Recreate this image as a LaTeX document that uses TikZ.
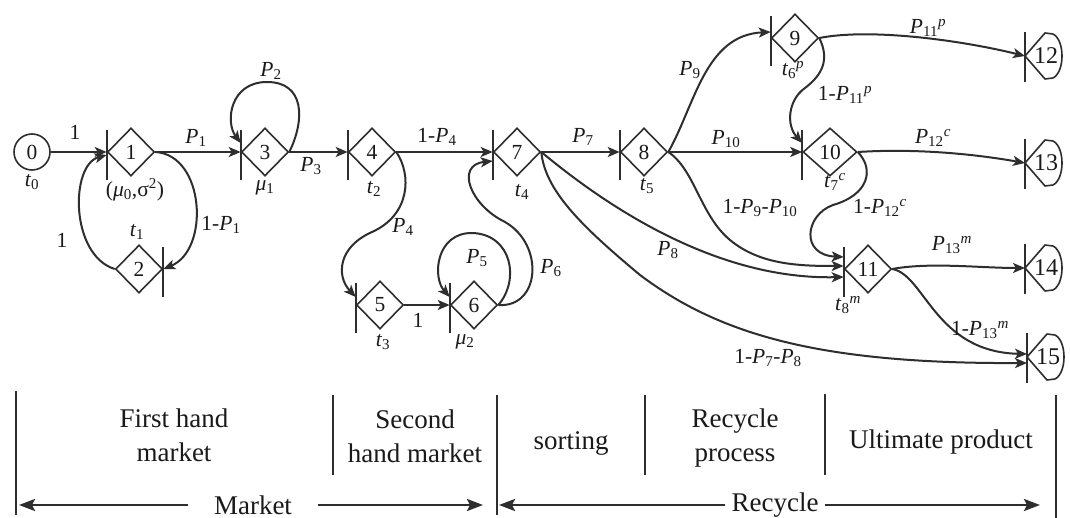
\documentclass[tikz,border=0pt]{standalone}
\usepackage{fontspec}
\setmainfont{Liberation Serif}
\usetikzlibrary{shapes.geometric,arrows.meta,calc}
\definecolor{linec}{HTML}{2E2E2E}
\definecolor{txtc}{HTML}{1A1A1A}
\newcommand{\sbs}[1]{\textsubscript{#1}}
\newcommand{\sps}[1]{\textsuperscript{\itshape #1}}
\newcommand{\Pv}{\textit{P}}
\newcommand{\tv}{\textit{t}}
\newcommand{\termnode}[4]{%
  \coordinate (#1) at (#2,#3);
  \draw[shp] (#1) -- ($(#1)+(20,-23)$) -- ($(#1)+(28,-22)$) .. controls ($(#1)+(40,-16)$) and ($(#1)+(40,16)$) .. ($(#1)+(28,22)$) -- ($(#1)+(20,23)$) -- cycle;
  \draw[bar] ($(#1)+(0,-24)$) -- ($(#1)+(0,26)$);
  \node[endlab] (#1l) at ($(#1)+(21,0)$) {#4};}
\begin{document}
\begin{tikzpicture}[x=1pt,y=-1pt,
  dia/.style={diamond,draw=linec,line width=1.6pt,minimum width=47pt,minimum height=48pt,inner sep=0pt,text=txtc,font=\fontsize{21.5}{24}\selectfont},
  circ/.style={circle,draw=linec,line width=1.6pt,minimum size=36pt,inner sep=0pt,text=txtc,font=\fontsize{21.5}{24}\selectfont},
  shp/.style={draw=linec,line width=1.6pt,line join=round},
  endlab/.style={inner sep=0pt,text=txtc,font=\fontsize{24}{26}\selectfont},
  lab/.style={font=\fontsize{21.5}{24}\selectfont,inner sep=0pt,text=txtc},
  arr/.style={draw=linec,line width=2pt,-{Stealth[length=12pt,width=10pt,inset=3pt]}},
  bar/.style={draw=linec,line width=1.9pt},
  sep/.style={draw=linec,line width=1.5pt},
  band/.style={font=\fontsize{27}{34}\selectfont,align=center,text=txtc,inner sep=0pt},
  big/.style={draw=linec,line width=2.5pt,-{Stealth[length=16pt,width=12pt,inset=3pt]}},
]
\fill[white] (0,0) rectangle (1070,518);
\useasboundingbox (0,0) rectangle (1070,518);

% ---- places / transitions
\node[circ] (n0) at (32,152) {0};
\node[dia] (n1) at (131,152) {1};
\node[dia] (n2) at (139,269) {2};
\node[dia] (n3) at (265,152) {3};
\node[dia] (n4) at (372,152) {4};
\node[dia] (n5) at (380,305) {5};
\node[dia] (n6) at (474,305) {6};
\node[dia] (n7) at (517,152) {7};
\node[dia] (n8) at (644,152) {8};
\node[dia] (n9) at (795,38) {9};
\node[dia,minimum width=54pt] (n10) at (830,152) {10};
\node[dia] (n11) at (868,269) {11};

\foreach \n in {n1,n3,n4,n5,n6,n7,n8,n9,n10,n11}
  \draw[bar] ($(\n.west)+(0,-22)$) -- ($(\n.west)+(0,28)$);
\draw[bar] ($(n2.east)+(0,-22)$) -- ($(n2.east)+(0,28)$);

\termnode{e12}{1025}{56}{12}
\termnode{e13}{1025}{163}{13}
\termnode{e14}{1025}{268}{14}
\termnode{e15}{1027}{357}{15}

% ---- connectors
\draw[arr] (n0.east) -- (n1.west);
\draw[arr] (n1.east) -- (n3.west);
\draw[arr] (n1.east) .. controls (205,155) and (210,250) .. (n2.east);
\draw[arr] (n2.west) .. controls (70,255) and (70,165) .. ($(n1.west)+(0,3)$);
\draw[arr] (n3.east) .. controls (305,120) and (305,82) .. (267,82) .. controls (230,82) and (225,122) .. ($(n3.west)+(0,-9)$);
\draw[arr] (n3.east) -- (n4.west);
\draw[arr] (n4.east) -- (n7.west);
\draw[arr] (n4.east) .. controls (412,175) and (410,215) .. (372,232) .. controls (338,247) and (336,276) .. ($(n5.west)+(0,-8)$);
\draw[arr] (n5.east) -- (n6.west);
\draw[arr] (n6.east) .. controls (520,280) and (512,235) .. (473,233) .. controls (436,232) and (432,277) .. ($(n6.west)+(0,-8)$);
\draw[arr] (n6.east) .. controls (540,308) and (545,245) .. (505,222) .. controls (470,205) and (455,165) .. ($(n7.west)+(0,9)$);
\draw[arr] (n7.east) -- (n8.west);
\draw[arr] (n7.east) .. controls (605,205) and (715,280) .. ($(n11.west)+(0,8)$);
\draw[arr] (n7.east) .. controls (545,190) and (580,225) .. (640,275) .. controls (720,335) and (820,364) .. ($(e15)+(0,6)$);
\draw[arr] (n8.east) .. controls (695,105) and (705,35) .. ($(n9.west)+(0,-6)$);
\draw[arr] (n8.east) -- (n10.west);
\draw[arr] (n8.east) .. controls (695,170) and (700,215) .. (730,240) .. controls (760,265) and (800,266) .. ($(n11.west)+(0,-3)$);
\draw[arr] (n9.east) .. controls (870,28) and (960,40) .. (e12);
\draw[arr] (n9.east) .. controls (830,60) and (822,75) .. (805,88) .. controls (788,100) and (786,125) .. ($(n10.west)+(0,-9)$);
\draw[arr] (n10.east) .. controls (920,148) and (980,155) .. (e13);
\draw[arr] (n10.east) .. controls (875,170) and (868,195) .. (833,205) .. controls (805,215) and (800,255) .. ($(n11.west)+(0,-12)$);
\draw[arr] (n11.east) .. controls (930,262) and (980,268) .. (e14);
\draw[arr] (n11.east) .. controls (925,275) and (935,352) .. ($(e15)+(0,-3)$);

% ---- labels
\node[lab] (lt0) at (32,182) {\tv\sbs{0}};
\node[lab] (lmu0) at (135,190) {(\textit{μ}\sbs{0},σ\textsuperscript{2})};
\node[lab] (lt1) at (137,232) {\tv\sbs{1}};
\node[lab] (l21) at (62,240) {1};
\node[lab] (l12) at (221,225) {1-\Pv\sbs{1}};
\node[lab] (lmu1) at (265,188) {\textit{μ}\sbs{1}};
\node[lab] (lP2) at (271,71) {\Pv\sbs{2}};
\node[lab] (lP1) at (196,138) {\Pv\sbs{1}};
\node[lab] (l01) at (75,132) {1};
\node[lab] (lP3) at (311,166) {\Pv\sbs{3}};
\node[lab] (lt2) at (374,189) {\tv\sbs{2}};
\node[lab] (l1P4) at (437,137) {1-\Pv\sbs{4}};
\node[lab] (lt4) at (522,192) {\tv\sbs{4}};
\node[lab] (lP4) at (403,227) {\Pv\sbs{4}};
\node[lab] (lt3) at (383,342) {\tv\sbs{3}};
\node[lab] (lmu2) at (465,342) {\textit{μ}\sbs{2}};
\node[lab] (l56) at (418,320) {1};
\node[lab] (lP5) at (477,258) {\Pv\sbs{5}};
\node[lab] (lP6) at (551,268) {\Pv\sbs{6}};
\node[lab] (lP7) at (583,137) {\Pv\sbs{7}};
\node[lab] (lt5) at (647,186) {\tv\sbs{5}};
\node[lab] (lP9) at (690,70) {\Pv\sbs{9}};
\node[lab] (lt6) at (793,70) {\tv\sbs{6}\sps{p}};
\node[lab] (lP10) at (726,139) {\Pv\sbs{10}};
\node[lab] (lt7) at (835,182) {\tv\sbs{7}\sps{c}};
\node[lab] (lP11) at (928,28) {\Pv\sbs{11}\sps{p}};
\node[lab] (l1P11) at (845,95) {1-\Pv\sbs{11}\sps{p}};
\node[lab] (lP12) at (933,138) {\Pv\sbs{12}\sps{c}};
\node[lab] (l1P12) at (880,208) {1-\Pv\sbs{12}\sps{c}};
\node[lab] (lt8) at (848,305) {\tv\sbs{8}\sps{m}};
\node[lab] (lP13) at (952,245) {\Pv\sbs{13}\sps{m}};
\node[lab] (l1P13) at (980,330) {1-\Pv\sbs{13}\sps{m}};
\node[lab] (l1P9) at (760,208) {1-\Pv\sbs{9}-\Pv\sbs{10}};
\node[lab] (lP8) at (668,250) {\Pv\sbs{8}};
\node[lab] (l1P7) at (768,358) {1-\Pv\sbs{7}-\Pv\sbs{8}};

% ---- bottom bands
\draw[sep] (16,391) -- (16,515);
\draw[sep] (333,395) -- (333,475);
\draw[sep] (497,395) -- (497,515);
\draw[sep] (645,395) -- (645,475);
\draw[sep] (825,394) -- (825,475);
\draw[sep] (1056,395) -- (1056,518);

\node[band] (fh) at (174,435) {First hand\\market};
\node[band] (sh) at (415,436) {Second\\hand market};
\node[band] (so) at (571,443) {sorting};
\node[band] (rp) at (735,438) {Recycle\\process};
\node[band] (up) at (941,442) {Ultimate product};

\node[band,inner xsep=26pt] (mk) at (253,505) {Market};
\coordinate (mkL) at (19,505);
\coordinate (mkR) at (483,505);
\draw[big] (mk.west) -- (mkL);
\draw[big] (mk.east) -- (mkR);
\node[band,inner xsep=6pt] (rc) at (775,505) {Recycle};
\coordinate (rcL) at (499,505);
\coordinate (rcR) at (1040,505);
\draw[big] (rc.west) -- (rcL);
\draw[big] (rc.east) -- (rcR);
\end{tikzpicture}
\end{document}
